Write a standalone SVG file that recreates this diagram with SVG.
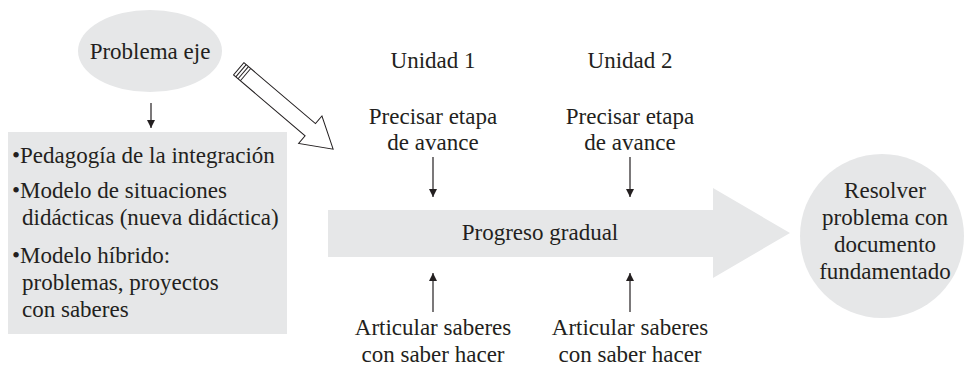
<svg xmlns="http://www.w3.org/2000/svg" width="966" height="370" viewBox="0 0 966 370" font-family="'Liberation Serif', 'DejaVu Serif', serif">
  <defs>
    <marker id="ah" viewBox="0 0 10 10" refX="10" refY="5" markerWidth="8" markerHeight="8" markerUnits="userSpaceOnUse" orient="auto">
      <path d="M0,0 L10,5 L0,10 Z" fill="#231f20"/>
    </marker>
  </defs>
  <style>
    text { font-family: 'Liberation Serif', 'DejaVu Serif', serif; font-size: 23px; fill: #231f20; }
    .c { text-anchor: middle; }
    .shape { fill: #e6e7e8; stroke: none; }
    .conn { stroke: #231f20; stroke-width: 1.2; fill: none; marker-end: url(#ah); }
    .hollow { fill: #ffffff; stroke: #231f20; stroke-width: 1; }
  </style>
  <rect width="966" height="370" fill="#ffffff"/>

  <g id="problema-eje">
    <ellipse class="shape" cx="150" cy="51" rx="72" ry="41"/>
    <text class="c" x="150" y="59">Problema eje</text>
  </g>

  <g id="modelos">
    <rect class="shape" x="8" y="132" width="279" height="202"/>
    <text x="12" y="163">•Pedagogía de la integración</text>
    <text x="12" y="198">•Modelo de situaciones</text>
    <text x="22" y="225">didácticas (nueva didáctica)</text>
    <text x="12" y="263">•Modelo híbrido:</text>
    <text x="22" y="290">problemas, proyectos</text>
    <text x="22" y="317">con saberes</text>
  </g>

  <g id="flecha-hueca" transform="translate(238.7,68.8) rotate(40.4)">
    <path class="hollow" d="M0,-8 L94,-8 L94,-18 L124,0 L94,18 L94,8 L0,8 Z"/>
    <line x1="3" y1="-8" x2="3" y2="8" stroke="#231f20" stroke-width="1"/>
    <line x1="6" y1="-8" x2="6" y2="8" stroke="#231f20" stroke-width="1"/>
    <line x1="9" y1="-8" x2="9" y2="8" stroke="#231f20" stroke-width="1"/>
  </g>

  <g id="progreso-gradual">
    <path class="shape" d="M328,210 L713,210 L713,188 L790,233 L713,278 L713,257 L328,257 Z"/>
    <text class="c" x="540" y="240">Progreso gradual</text>
  </g>

  <g id="resolver">
    <circle class="shape" cx="882" cy="236" r="82"/>
    <text class="c" x="885" y="198">Resolver</text>
    <text class="c" x="885" y="225">problema con</text>
    <text class="c" x="885" y="252">documento</text>
    <text class="c" x="885" y="279">fundamentado</text>
  </g>

  <g id="unidad-1">
    <text class="c" x="433" y="68">Unidad 1</text>
    <text class="c" x="433" y="124">Precisar etapa</text>
    <text class="c" x="433" y="150">de avance</text>
    <text class="c" x="433" y="335">Articular saberes</text>
    <text class="c" x="433" y="362">con saber hacer</text>
  </g>

  <g id="unidad-2">
    <text class="c" x="630" y="68">Unidad 2</text>
    <text class="c" x="630" y="124">Precisar etapa</text>
    <text class="c" x="630" y="150">de avance</text>
    <text class="c" x="630" y="335">Articular saberes</text>
    <text class="c" x="630" y="362">con saber hacer</text>
  </g>

  <g id="connectors">
    <line class="conn" x1="151" y1="103" x2="151" y2="128"/>
    <line class="conn" x1="433" y1="157" x2="433" y2="197"/>
    <line class="conn" x1="630" y1="157" x2="630" y2="197"/>
    <line class="conn" x1="433" y1="312" x2="433" y2="273"/>
    <line class="conn" x1="630" y1="312" x2="630" y2="273"/>
  </g>
</svg>
